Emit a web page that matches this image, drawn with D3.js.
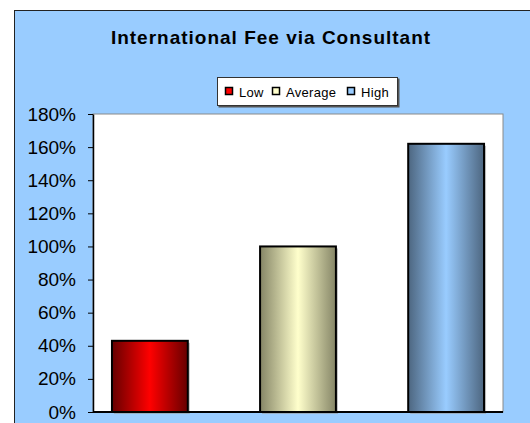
<!DOCTYPE html>
<html>
<head>
<meta charset="utf-8">
<script src="https://cdn.jsdelivr.net/npm/d3@7"></script>
<style>
  body { margin: 0; background: #fff; }
  svg { display: block; font-family: "Liberation Sans", Arial, sans-serif; }
</style>
</head>
<body>
<div class="chart"></div>
<script>
// chart data
const series = ["Low", "Average", "High"];
const values = [0.43, 1.0, 1.62];
const yTicks = [0, 0.2, 0.4, 0.6, 0.8, 1.0, 1.2, 1.4, 1.6, 1.8];
const title = "International Fee via Consultant";

// colours for each series: [edge, centre]
const shades = [
  ["#660000", "#ff0000"],
  ["#858566", "#ffffcc"],
  ["#4d6680", "#99ccff"]
];

const W = 530, H = 423;
const plot = { left: 93, top: 114, right: 503, bottom: 412 };

const svg = d3.select(".chart").append("svg")
  .attr("width", W)
  .attr("height", H);

// outer chart frame
svg.append("rect")
  .attr("x", 14.5).attr("y", 10.5)
  .attr("width", W).attr("height", H)
  .attr("fill", "#99ccff")
  .attr("stroke", "#222")
  .attr("stroke-width", 1);

// gradients for bars
const defs = svg.append("defs");
shades.forEach((c, i) => {
  const g = defs.append("linearGradient")
    .attr("id", "grad" + i)
    .attr("x1", "0%").attr("x2", "100%").attr("y1", "0%").attr("y2", "0%");
  g.append("stop").attr("offset", "0%").attr("stop-color", c[0]);
  g.append("stop").attr("offset", "50%").attr("stop-color", c[1]);
  g.append("stop").attr("offset", "100%").attr("stop-color", c[0]);
});

// title
svg.append("text")
  .attr("x", 271).attr("y", 44)
  .attr("text-anchor", "middle")
  .style("font-size", "19px")
  .style("font-weight", "bold")
  .style("letter-spacing", "1px")
  .text(title);

// scales
const x = d3.scaleBand()
  .domain(series)
  .range([plot.left, plot.right])
  .paddingInner(0.488)
  .paddingOuter(0.128);

const y = d3.scaleLinear()
  .domain([0, 1.8])
  .range([plot.bottom, plot.top]);

// plot area
svg.append("rect")
  .attr("x", plot.left).attr("y", plot.top)
  .attr("width", plot.right - plot.left)
  .attr("height", plot.bottom - plot.top)
  .attr("fill", "#fff")
  .attr("stroke", "#8a8a8a")
  .attr("stroke-width", 1);

// y axis
const yAxis = svg.append("g")
  .attr("transform", `translate(${plot.left},0)`)
  .call(d3.axisLeft(y).tickValues(yTicks).tickFormat(d3.format(".0%")).tickSizeInner(5).tickSizeOuter(0).tickPadding(12));
yAxis.select(".domain").attr("stroke", "#000").attr("stroke-width", 1.5);
yAxis.selectAll("line").attr("stroke", "#000");
yAxis.selectAll("text")
  .style("font-size", "19px")
  .attr("fill", "#000");

// bar shadows
svg.selectAll(".shadow")
  .data(values)
  .join("rect")
  .attr("class", "shadow")
  .attr("x", (d, i) => x(series[i]) + 2)
  .attr("y", d => y(d) + 2)
  .attr("width", x.bandwidth())
  .attr("height", d => y(0) - y(d))
  .attr("fill", "#999")
  .attr("opacity", 0.6);

// bars
svg.selectAll(".bar")
  .data(values)
  .join("rect")
  .attr("class", "bar")
  .attr("x", (d, i) => x(series[i]))
  .attr("y", d => y(d))
  .attr("width", x.bandwidth())
  .attr("height", d => y(0) - y(d))
  .attr("fill", (d, i) => `url(#grad${i})`)
  .attr("stroke", "#000")
  .attr("stroke-width", 2);

// x axis line
svg.append("line")
  .attr("x1", plot.left).attr("x2", plot.right)
  .attr("y1", y(0)).attr("y2", y(0))
  .attr("stroke", "#000")
  .attr("stroke-width", 2);

// legend
const legend = svg.append("g").attr("transform", "translate(217,77)");
legend.append("rect")
  .attr("x", 1.5).attr("y", 1.5)
  .attr("width", 181).attr("height", 29)
  .attr("fill", "#555");
legend.append("rect")
  .attr("x", 0.5).attr("y", 0.5)
  .attr("width", 180).attr("height", 28)
  .attr("fill", "#fff")
  .attr("stroke", "#333");

const legendX = [8, 55, 130];
const item = legend.selectAll(".item")
  .data(series)
  .join("g")
  .attr("class", "item")
  .attr("transform", (d, i) => `translate(${legendX[i]},0)`);
item.append("rect")
  .attr("x", 0.5).attr("y", 10.5)
  .attr("width", 7).attr("height", 7)
  .attr("fill", (d, i) => shades[i][1])
  .attr("stroke", "#000")
  .attr("stroke-width", 1.5);
item.append("text")
  .attr("x", 14).attr("y", 19.5)
  .style("font-size", "13px")
  .style("letter-spacing", "0.3px")
  .text(d => d);
</script>
</body>
</html>
